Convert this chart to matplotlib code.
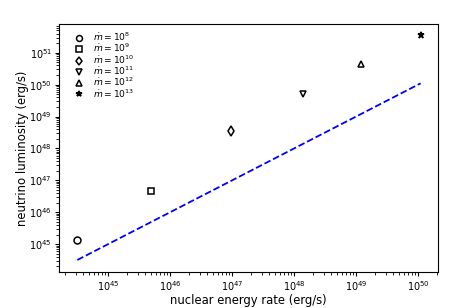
import numpy as np
import matplotlib
matplotlib.use("Agg")
from matplotlib import pyplot as plt

# accretion rates and their markers
MDOT_EXP = [8, 9, 10, 11, 12, 13]
MARKERS = ['o', 's', 'd', 'v', '^', '*']

# values (erg/s)
nuclear_rate = [3.2e44, 5.0e45, 9.5e46, 1.4e48, 1.2e49, 1.1e50]
neutrino_lum = [1.4e45, 4.5e46, 3.6e48, 5.0e49, 4.3e50, 3.5e51]

fig = plt.figure(figsize=(4.76, 3.08), dpi=100)
ax = fig.add_axes([0.124, 0.116, 0.796, 0.806])

for i in range(len(MDOT_EXP)):
    face = 'k' if MARKERS[i] == '*' else 'none'
    ax.plot(nuclear_rate[i], neutrino_lum[i], linestyle='none',
            marker=MARKERS[i], markersize=5, markerfacecolor=face,
            markeredgecolor='k', markeredgewidth=1.1,
            label=r'$\dot{m}=10^{%d}$' % MDOT_EXP[i])

# L_nu = nuclear rate line
ax.plot(nuclear_rate, nuclear_rate, 'b--', linewidth=1.3)

ax.set_xscale('log')
ax.set_yscale('log')
ax.set_xlim(10**44.21, 10**50.32)
ax.set_ylim(10**44.12, 10**51.9)
ax.set_xlabel('nuclear energy rate (erg/s)', fontsize=8.4, labelpad=1)
ax.set_ylabel('neutrino luminosity (erg/s)', fontsize=8.4, labelpad=0)
ax.tick_params(which='major', labelsize=7, length=3, pad=2)
ax.tick_params(which='minor', length=2)
leg = ax.legend(loc='upper left', bbox_to_anchor=(0.02, 0.995), frameon=False,
                fontsize=6.6, handletextpad=0.8, labelspacing=-0.12,
                borderaxespad=0.2, handlelength=1.5, markerscale=0.85)

fig.savefig('out.png', dpi=100)
